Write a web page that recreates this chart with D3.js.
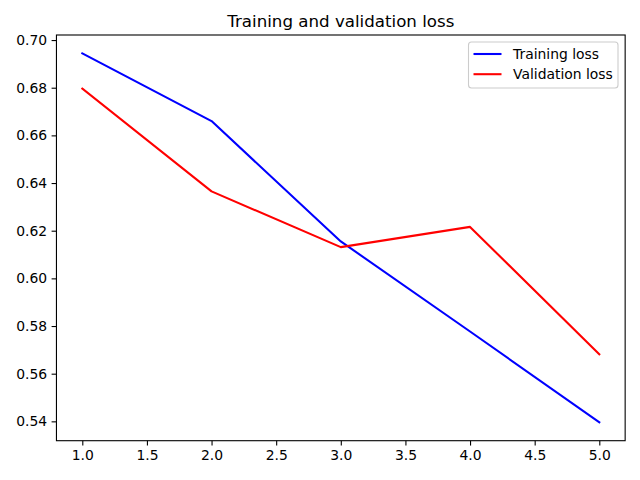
<!DOCTYPE html>
<html><head><meta charset="utf-8">
<script src="https://cdn.jsdelivr.net/npm/d3@7"></script>
<style>body{margin:0;background:#fff}svg{display:block}text{font-family:"DejaVu Sans",sans-serif}</style>
</head><body>
<svg id="c" width="640" height="480"></svg>
<script>
const epochs = [1, 2, 3, 4, 5];
const trainingLoss = [0.6944, 0.6660, 0.6155, 0.5777, 0.5396];
const validationLoss = [0.6796, 0.6365, 0.6131, 0.6216, 0.5681];
const xTicks = [1.0, 1.5, 2.0, 2.5, 3.0, 3.5, 4.0, 4.5, 5.0];
const yTicks = [0.54, 0.56, 0.58, 0.60, 0.62, 0.64, 0.66, 0.68, 0.70];
const seriesNames = ["Training loss", "Validation loss"];
const seriesColors = ["#0000ff", "#ff0000"];

const svg = d3.select("#c");
const L = 56.45, R = 625.15, T = 35, B = 440.7;
const x = d3.scaleLinear().domain([0.8, 5.2]).range([L, R]);
const y = d3.scaleLinear().domain([0.53188, 0.70212]).range([B, T]);

const xAxis = d3.axisBottom(x).tickValues(xTicks).tickFormat(d3.format(".1f")).tickSize(4.86).tickPadding(4.5);
const yAxis = d3.axisLeft(y).tickValues(yTicks).tickFormat(d3.format(".2f")).tickSize(4.86).tickPadding(4.5);

const gx = svg.append("g").attr("transform", `translate(0,${B})`).call(xAxis);
const gy = svg.append("g").attr("transform", `translate(${L},0)`).call(yAxis);
[gx, gy].forEach(g => {
  g.select(".domain").remove();
  g.selectAll(".tick line").attr("stroke", "#000").attr("stroke-width", 1.1);
  g.selectAll(".tick text").attr("fill", "#000").style("font-size", "13.9px").style("font-family", "DejaVu Sans, sans-serif");
});

const line = d3.line().x((d, i) => x(epochs[i])).y(d => y(d));
[trainingLoss, validationLoss].forEach((s, k) => {
  svg.append("path").datum(s).attr("d", line).attr("fill", "none")
    .attr("stroke", seriesColors[k]).attr("stroke-width", 2.08)
    .attr("stroke-linejoin", "round").attr("stroke-linecap", "square");
});

svg.append("rect").attr("x", L).attr("y", T).attr("width", R - L).attr("height", B - T)
  .attr("fill", "none").attr("stroke", "#000").attr("stroke-width", 1.1);

svg.append("text").attr("x", (L + R) / 2).attr("y", 27).attr("text-anchor", "middle")
  .style("font-size", "16.67px").attr("fill", "#000").text("Training and validation loss");

const lg = svg.append("g");
lg.append("rect").attr("x", 468.5).attr("y", 42).attr("width", 149.5).attr("height", 46)
  .attr("rx", 3).attr("fill", "#fff").attr("fill-opacity", 0.8).attr("stroke", "#cccccc").attr("stroke-width", 1.1);
seriesNames.forEach((n, k) => {
  const yy = 54 + k * 20.2;
  lg.append("line").attr("x1", 473.5).attr("x2", 501.5).attr("y1", yy).attr("y2", yy)
    .attr("stroke", seriesColors[k]).attr("stroke-width", 2.08);
  lg.append("text").attr("x", 513).attr("y", yy).attr("dy", "0.36em")
    .style("font-size", "13.9px").attr("fill", "#000").text(n);
});
</script>
</body></html>
